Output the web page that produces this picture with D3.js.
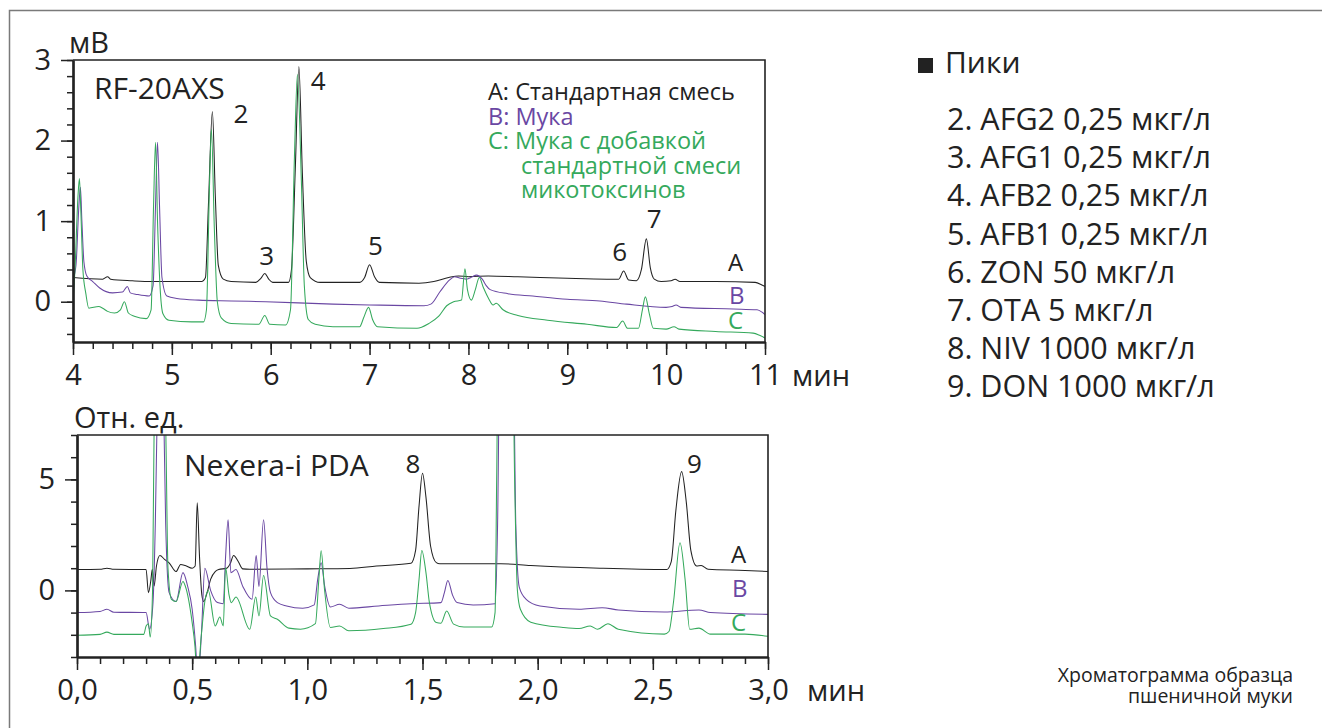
<!DOCTYPE html>
<html>
<head>
<meta charset="utf-8">
<script src="https://cdn.jsdelivr.net/npm/d3@7/dist/d3.min.js"></script>
<style>
  body { margin: 0; background: #fff; }
  svg text { font-family: "Open Sans", "Noto Sans", sans-serif; fill: #222; }
</style>
</head>
<body>
<svg id="chart" width="1322" height="728"></svg>
<script>
// ---- data: RF-20AXS (fluorescence), time in min, signal in mV ----
const rfA = [[4.00,0.30],[4.30,0.28],[4.35,0.31],[4.38,0.28],[4.60,0.26],[4.80,0.25],[5.00,0.25],[5.30,0.25],[5.34,0.30],[5.37,1.20],
  [5.41,2.36],[5.44,1.30],[5.47,0.45],[5.52,0.28],[5.60,0.25],[5.85,0.24],[5.90,0.29],[5.94,0.35],[5.98,0.28],[6.02,0.24],
  [6.18,0.24],[6.21,0.40],[6.25,1.70],[6.285,2.92],[6.32,1.60],[6.36,0.50],[6.40,0.30],[6.50,0.24],[6.90,0.24],[6.95,0.30],
  [7.00,0.46],[7.05,0.31],[7.10,0.24],[7.50,0.23],[7.65,0.25],[7.80,0.30],[7.90,0.32],[8.00,0.31],[8.20,0.32],[8.50,0.31],
  [9.00,0.29],[9.40,0.28],[9.52,0.28],[9.57,0.38],[9.62,0.27],[9.70,0.26],[9.75,0.40],[9.80,0.78],[9.84,0.42],[9.88,0.28],
  [9.95,0.25],[10.05,0.26],[10.09,0.28],[10.14,0.25],[10.50,0.25],[10.90,0.24],[10.98,0.20],[11.00,0.19]];
const rfB = [[4.00,0.28],[4.03,0.45],[4.06,1.20],[4.075,1.42],[4.09,1.00],[4.11,0.50],[4.14,0.32],[4.20,0.25],[4.27,0.17],[4.40,0.11],
  [4.50,0.12],[4.55,0.19],[4.58,0.11],[4.65,0.09],[4.77,0.07],[4.81,0.20],[4.835,1.20],[4.855,1.98],[4.875,1.20],[4.90,0.30],
  [4.95,0.07],[5.05,0.04],[5.27,0.02],[5.60,0.01],[5.95,0.00],[6.63,-0.03],[7.00,-0.04],[7.55,-0.05],[7.62,-0.03],[7.71,0.12],
  [7.81,0.27],[7.86,0.31],[7.92,0.29],[7.98,0.28],[8.04,0.31],[8.08,0.33],[8.14,0.28],[8.18,0.20],[8.22,0.15],[8.40,0.10],
  [8.65,0.07],[9.00,0.03],[9.33,0.01],[9.60,-0.03],[10.00,-0.07],[10.06,-0.06],[10.10,-0.04],[10.15,-0.07],[10.68,-0.09],
  [10.92,-0.10],[10.97,-0.13],[11.00,-0.16]];
const rfC = [[4.00,0.00],[4.02,0.40],[4.05,1.30],[4.065,1.53],[4.08,1.10],[4.10,0.40],[4.13,0.10],[4.16,-0.08],[4.26,-0.06],[4.30,-0.08],
  [4.35,-0.12],[4.42,-0.14],[4.48,-0.10],[4.52,0.00],[4.56,-0.14],[4.62,-0.18],[4.74,-0.21],[4.79,-0.10],[4.815,1.20],[4.835,1.98],
  [4.855,1.00],[4.88,0.20],[4.91,-0.15],[4.97,-0.23],[5.20,-0.25],[5.32,-0.25],[5.35,-0.10],[5.38,1.40],[5.40,2.14],[5.43,0.90],
  [5.46,0.00],[5.50,-0.20],[5.60,-0.27],[5.88,-0.28],[5.94,-0.17],[5.99,-0.28],[6.15,-0.29],[6.20,-0.10],[6.24,1.80],[6.27,2.82],
  [6.31,1.50],[6.34,0.20],[6.38,-0.22],[6.45,-0.28],[6.63,-0.31],[6.90,-0.31],[6.94,-0.20],[6.99,-0.07],[7.03,-0.22],[7.08,-0.31],
  [7.48,-0.33],[7.60,-0.27],[7.70,-0.18],[7.78,-0.05],[7.85,0.00],[7.93,0.02],[7.965,0.41],[7.99,0.15],[8.03,0.02],[8.07,0.15],
  [8.11,0.30],[8.15,0.18],[8.20,0.05],[8.25,-0.04],[8.28,-0.02],[8.35,-0.10],[8.50,-0.17],[8.80,-0.23],[9.20,-0.28],[9.50,-0.32],
  [9.56,-0.24],[9.61,-0.33],[9.72,-0.33],[9.76,-0.10],[9.79,0.06],[9.83,-0.15],[9.87,-0.33],[10.00,-0.34],[10.08,-0.31],
  [10.13,-0.34],[10.50,-0.37],[10.88,-0.39],[10.95,-0.42],[11.00,-0.45]];

// ---- data: Nexera-i PDA, time in min, relative units ----
const pdaA = [[0.00,0.94],[0.10,0.95],[0.13,1.00],[0.16,0.95],[0.30,0.94],[0.31,-0.10],[0.32,0.40],[0.327,0.95],[0.335,0.20],
  [0.345,1.10],[0.36,1.57],[0.38,1.40],[0.40,1.24],[0.43,0.85],[0.45,1.17],[0.47,1.12],[0.50,1.00],[0.513,1.10],[0.522,3.95],
  [0.532,1.50],[0.542,-0.20],[0.55,-0.50],[0.565,-0.10],[0.58,0.50],[0.60,0.85],[0.615,0.94],[0.65,1.00],[0.665,1.20],
  [0.68,1.57],[0.70,1.30],[0.72,0.97],[0.75,0.95],[1.00,0.97],[1.185,0.99],[1.30,1.10],[1.45,1.22],[1.47,1.80],[1.485,3.80],
  [1.50,5.28],[1.515,4.20],[1.535,2.00],[1.56,1.25],[1.575,1.20],[1.84,1.20],[1.97,1.12],[2.27,1.00],[2.56,0.94],[2.58,1.30],
  [2.60,3.60],[2.625,5.35],[2.645,4.00],[2.665,1.80],[2.69,1.10],[2.71,1.12],[2.74,0.95],[2.90,0.90],[3.00,0.85]];
const pdaB = [[0.00,-1.00],[0.10,-0.95],[0.13,-0.85],[0.16,-0.98],[0.30,-1.00],[0.315,-1.75],[0.33,-0.55],[0.34,3.00],[0.35,9.00],
  [0.365,12.0],[0.375,9.00],[0.385,3.00],[0.40,-0.10],[0.43,-0.50],[0.46,0.80],[0.48,0.20],[0.50,-0.85],[0.515,-2.50],
  [0.525,-4.00],[0.54,-2.00],[0.555,1.00],[0.58,0.00],[0.61,-0.55],[0.635,-0.60],[0.645,1.50],[0.656,3.18],[0.668,0.80],
  [0.69,0.94],[0.72,0.18],[0.76,-0.40],[0.778,1.57],[0.79,0.18],[0.81,3.18],[0.825,1.00],[0.84,-0.10],[0.87,-0.55],
  [0.91,-0.70],[0.98,-0.80],[1.03,-0.65],[1.045,0.50],[1.06,1.25],[1.075,0.20],[1.10,-0.75],[1.14,-0.62],[1.18,-0.80],
  [1.31,-0.70],[1.45,-0.60],[1.58,-0.55],[1.595,-0.10],[1.61,0.45],[1.63,-0.20],[1.65,-0.55],[1.72,-0.66],[1.815,-0.60],
  [1.826,3.00],[1.835,10.0],[1.87,12.0],[1.895,10.0],[1.905,3.00],[1.92,0.15],[1.95,-0.40],[2.01,-0.70],[2.18,-0.85],
  [2.28,-0.78],[2.35,-0.88],[2.55,-0.97],[2.70,-0.88],[2.75,-1.00],[3.00,-1.08]];
const pdaC = [[0.00,-2.02],[0.10,-1.98],[0.13,-1.88],[0.16,-1.98],[0.29,-1.98],[0.30,-1.60],[0.31,-1.50],[0.318,-2.10],
  [0.328,0.00],[0.335,7.50],[0.35,12.0],[0.37,12.0],[0.385,7.50],[0.395,1.00],[0.41,-0.40],[0.43,-0.50],[0.46,0.40],
  [0.47,0.20],[0.50,-1.45],[0.512,-2.50],[0.522,-4.00],[0.54,-2.00],[0.555,-0.50],[0.57,0.00],[0.60,-1.60],[0.62,-1.20],
  [0.635,-1.60],[0.645,1.03],[0.66,-0.20],[0.67,-0.55],[0.69,-0.30],[0.75,-1.75],[0.776,-0.30],[0.79,-1.15],[0.81,0.67],
  [0.84,-1.15],[0.87,-1.30],[0.92,-1.70],[0.97,-1.75],[1.035,-1.50],[1.05,0.50],[1.06,1.79],[1.075,0.00],[1.10,-1.67],
  [1.14,-1.60],[1.18,-1.82],[1.33,-1.72],[1.45,-1.52],[1.47,-1.00],[1.485,0.50],[1.497,1.80],[1.515,0.80],[1.53,-0.55],
  [1.56,-1.45],[1.58,-1.48],[1.605,-0.93],[1.635,-1.52],[1.68,-1.65],[1.80,-1.65],[1.815,-1.00],[1.822,5.00],[1.83,12.0],
  [1.89,12.0],[1.90,5.00],[1.912,0.00],[1.925,-0.85],[1.97,-1.43],[2.11,-1.67],[2.18,-1.72],[2.228,-1.60],[2.26,-1.75],
  [2.305,-1.50],[2.35,-1.75],[2.55,-1.97],[2.57,-1.85],[2.59,-0.50],[2.618,2.15],[2.64,0.50],[2.66,-1.75],[2.70,-1.70],
  [2.75,-1.97],[2.90,-1.97],[3.00,-2.07]];

// ticks and labels
const rfXTicks = [4, 5, 6, 7, 8, 9, 10, 11];
const rfYTicks = [0, 1, 2, 3];
const pdaXTicks = [0, 0.5, 1, 1.5, 2, 2.5, 3];
const pdaYTicks = [0, 5];
const rfPeaks = [["2", 5.70, 2.22], ["3", 5.96, 0.45], ["4", 6.48, 2.63], ["5", 7.06, 0.58], ["6", 9.53, 0.50], ["7", 9.88, 0.91]];
const pdaPeaks = [["8", 1.459, 5.29], ["9", 2.681, 5.29]];
const traceNames = ["A", "B", "C"];
const colors = ["#222222", "#6a47a3", "#35a95c"];
const legendLines = [["A: Стандартная смесь", 0], ["B: Мука", 1], ["C: Мука с добавкой", 2], ["стандартной смеси", 2], ["микотоксинов", 2]];
const peakList = ["2. AFG2 0,25 мкг/л", "3. AFG1 0,25 мкг/л", "4. AFB2 0,25 мкг/л", "5. AFB1 0,25 мкг/л",
  "6. ZON 50 мкг/л", "7. OTA 5 мкг/л", "8. NIV 1000 мкг/л", "9. DON 1000 мкг/л"];

const svg = d3.select('#chart');

// outer frame
svg.append('path').attr('d', 'M9.5,728 V10.5 H1322').attr('fill', 'none').attr('stroke', '#7a7a7a').attr('stroke-width', 1.5);

function panel(opt) {
  const x = d3.scaleLinear().domain(opt.xDomain).range([opt.left, opt.right]);
  const y = d3.scaleLinear().domain(opt.yDomain).range([opt.bottom, opt.top]);
  const g = svg.append('g');

  g.append('clipPath').attr('id', opt.id)
    .append('rect').attr('x', opt.left).attr('y', opt.top).attr('width', opt.right - opt.left).attr('height', opt.bottom - opt.top);

  const line = d3.line().x(d => x(d[0])).y(d => y(d[1])).curve(d3.curveMonotoneX);
  opt.traces.forEach((tr, i) => {
    g.append('path').datum(tr).attr('clip-path', `url(#${opt.id})`)
      .attr('fill', 'none').attr('stroke', colors[i]).attr('stroke-width', 1.05).attr('d', line);
  });

  // border (top & right)
  g.append('path').attr('d', `M${opt.left},${opt.top} H${opt.right} V${opt.bottom}`)
    .attr('fill', 'none').attr('stroke', '#222').attr('stroke-width', 1.6);

  // minor ticks
  g.append('g').attr('transform', `translate(0,${opt.bottom})`)
    .call(d3.axisBottom(x).tickValues(opt.xMinor).tickSize(7).tickSizeOuter(0).tickFormat(''));
  g.append('g').attr('transform', `translate(${opt.left},0)`)
    .call(d3.axisLeft(y).tickValues(opt.yMinor).tickSize(6).tickSizeOuter(0).tickFormat(''));

  // major ticks + labels
  g.append('g').attr('transform', `translate(0,${opt.bottom})`)
    .call(d3.axisBottom(x).tickValues(opt.xTicks).tickSize(13).tickSizeOuter(0).tickPadding(9).tickFormat(opt.xFormat));
  g.append('g').attr('transform', `translate(${opt.left},0)`)
    .call(d3.axisLeft(y).tickValues(opt.yTicks).tickSize(12).tickSizeOuter(0).tickPadding(10).tickFormat(d3.format('d')));

  g.selectAll('.tick line').attr('stroke', '#222').attr('stroke-width', 1.5);
  g.selectAll('.domain').attr('stroke', '#222').attr('stroke-width', 2.2);
  g.selectAll('.tick text').style('font-size', '29px').attr('fill', '#222');

  // units
  g.append('text').attr('x', opt.right + opt.unitDx).attr('y', opt.bottom + 44).style('font-size', '29px').text('мин');
  g.append('text').attr('x', opt.yUnitX).attr('y', opt.top - 7).style('font-size', '29px').text(opt.yUnit);

  // instrument name
  g.append('text').attr('x', opt.nameX).attr('y', opt.nameY).style('font-size', '30px').text(opt.name);

  // peak numbers
  opt.peaks.forEach(p => {
    g.append('text').attr('x', x(p[1])).attr('y', y(p[2])).attr('text-anchor', 'middle')
      .style('font-size', '26px').text(p[0]);
  });

  // A / B / C labels at the right end
  traceNames.forEach((n, i) => {
    g.append('text').attr('x', opt.right - 37 + (i === 1 ? 1 : 0)).attr('y', opt.abcY[i])
      .style('font-size', '24px').style('fill', colors[i]).text(n);
  });
  return { x, y, g };
}

panel({
  id: 'clipRF', left: 73, right: 765, top: 60, bottom: 342,
  xDomain: [4, 11], yDomain: [-0.5, 3],
  xTicks: rfXTicks, yTicks: rfYTicks,
  xMinor: d3.range(4, 11.001, 0.2), yMinor: d3.range(-0.4, 3.001, 0.2),
  xFormat: d3.format('d'),
  traces: [rfA, rfB, rfC],
  unitDx: 27,
  yUnit: 'мВ', yUnitX: 69,
  name: 'RF-20AXS', nameX: 94, nameY: 99,
  peaks: rfPeaks,
  abcY: [271, 304, 329]
});

panel({
  id: 'clipPDA', left: 77, right: 768, top: 435, bottom: 657,
  xDomain: [0, 3], yDomain: [-3, 7],
  xTicks: pdaXTicks, yTicks: pdaYTicks,
  xMinor: d3.range(0, 3.001, 0.1), yMinor: d3.range(-3, 7.001, 1),
  xFormat: d => d3.format('.1f')(d).replace('.', ','),
  traces: [pdaA, pdaB, pdaC],
  unitDx: 39,
  yUnit: 'Отн. ед.', yUnitX: 74,
  name: 'Nexera-i PDA', nameX: 184, nameY: 476,
  peaks: pdaPeaks,
  abcY: [563, 597, 631]
});

// in-chart legend
legendLines.forEach((l, i) => {
  svg.append('text').attr('x', i > 2 ? 521 : 488).attr('y', 100 + i * 24.6)
    .style('font-size', '23.5px').style('fill', colors[l[1]]).text(l[0]);
});

// peak list on the right
svg.append('rect').attr('x', 918).attr('y', 58).attr('width', 15).attr('height', 15).attr('fill', '#222');
svg.append('text').attr('x', 945).attr('y', 73).style('font-size', '30px').text('Пики');
peakList.forEach((s, i) => {
  svg.append('text').attr('x', 947).attr('y', 130 + i * 38.2).style('font-size', '30.5px').text(s);
});

// caption
svg.append('text').attr('x', 1293).attr('y', 682).attr('text-anchor', 'end').style('font-size', '19.5px').text('Хроматограмма образца');
svg.append('text').attr('x', 1293).attr('y', 703).attr('text-anchor', 'end').style('font-size', '19.5px').text('пшеничной муки');
</script>
</body>
</html>
